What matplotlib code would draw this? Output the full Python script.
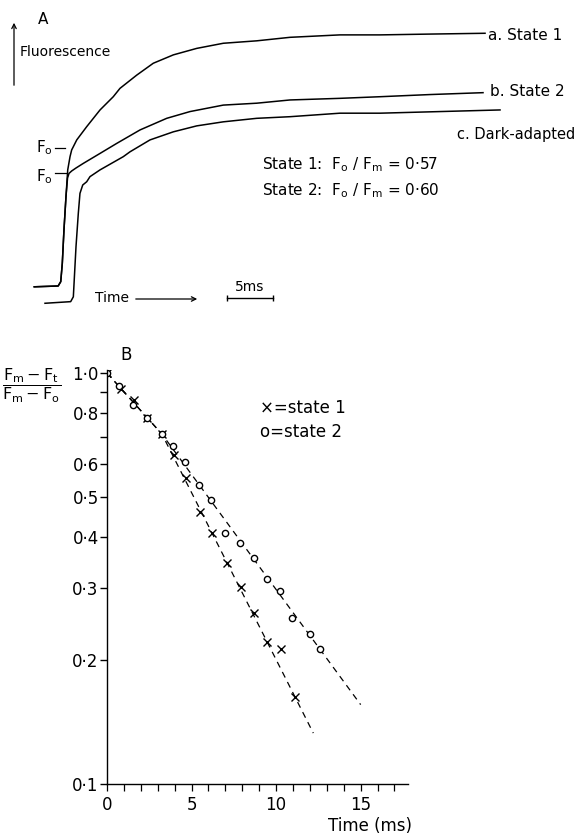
import matplotlib
matplotlib.use("Agg")
import matplotlib.pyplot as plt
from matplotlib.ticker import FixedLocator, FixedFormatter, NullFormatter
import numpy as np

plt.rcParams["font.family"] = ["DejaVu Sans"]
plt.rcParams["mathtext.default"] = "regular"

# ---------------- panel A : fluorescence induction traces (t in ms, F in a.u.) ----
t_state1 = [-2.8, -0.2, 0.08, 0.25, 0.43, 0.65, 0.84, 1.09, 1.27, 1.45, 1.82, 2.9,
            4.35, 5.79, 6.52, 8.34, 10.14, 12.32, 14.86, 17.75, 21.38, 25.0, 30.43,
            34.78, 40.2, 46.2]
f_state1 = [6.0, 6.3, 7.9, 14.7, 27.0, 39.4, 49.3, 54.2, 56.7, 57.9, 60.4, 65.3,
            71.5, 76.4, 79.5, 84.4, 88.8, 91.9, 94.3, 96.2, 97.1, 98.4, 99.3,
            99.3, 99.6, 99.9]

t_state2 = [-2.8, -0.2, 0.08, 0.25, 0.43, 0.65, 0.82, 0.98, 1.27, 1.74, 2.53, 4.35,
            6.16, 8.7, 11.6, 14.13, 17.75, 21.38, 25.0, 30.43, 34.78, 40.2, 45.98]
f_state2 = [6.0, 6.3, 7.9, 14.7, 27.0, 39.4, 46.3, 48.0, 48.9, 50.0, 51.7, 55.4,
            59.1, 64.1, 68.4, 70.9, 73.3, 74.0, 75.2, 75.8, 76.4, 77.2, 77.9]

t_dark = [-1.63, 1.16, 1.45, 1.74, 1.99, 2.17, 2.47, 2.9, 3.26, 4.35, 6.88, 7.61,
          9.78, 12.32, 14.86, 17.75, 21.38, 25.0, 30.43, 34.78, 41.3, 47.83]
f_dark = [-0.1, 0.5, 2.3, 20.9, 33.2, 40.6, 43.7, 44.9, 46.8, 49.3, 54.2, 56.0,
          60.4, 63.4, 65.6, 67.1, 68.4, 69.0, 70.3, 70.3, 70.9, 71.5]

# ---------------- panel B : semilog decay (Fm-Ft)/(Fm-Fo) -----------------------
t1 = [0, 0.82, 1.57, 2.36, 3.25, 3.99, 4.66, 5.49, 6.21, 7.12, 7.92, 8.71, 9.46,
      10.30, 11.13]
y1 = [1.0, 0.913, 0.860, 0.777, 0.710, 0.632, 0.556, 0.458, 0.407, 0.344, 0.301,
      0.261, 0.222, 0.213, 0.163]
t2 = [0, 0.71, 1.53, 2.36, 3.25, 3.91, 4.64, 5.44, 6.17, 6.96, 7.88, 8.67, 9.44,
      10.26, 10.95, 11.98, 12.58]
y2 = [1.0, 0.930, 0.837, 0.777, 0.710, 0.663, 0.607, 0.533, 0.491, 0.409, 0.386,
      0.355, 0.316, 0.295, 0.253, 0.232, 0.213]
fit1_t, fit1_y = [0, 3.25, 12.2], [1.0, 0.71, 0.133]
fit2_t, fit2_y = [0, 3.25, 15.0], [1.0, 0.71, 0.156]

yticks = [1.0, 0.8, 0.6, 0.5, 0.4, 0.3, 0.2, 0.1]
ytick_labels = ["1·0", "0·8", "0·6", "0·5", "0·4", "0·3", "0·2", "0·1"]
yminor = [0.9, 0.7]
xticks = [0, 5, 10, 15]

W, H = 583, 839


def fx(x):
    return x / W


def fy(y):
    return 1 - y / H


fig = plt.figure(figsize=(W / 100, H / 100), dpi=100)

# panel A -- axes spans the top 320 px, 5 ms = 46 px
axA = fig.add_axes([0, fy(320), 1, 320 / H])
axA.set_xlim((0 - 60) / 9.2, (W - 60) / 9.2)
axA.set_ylim((303 - 320) / 2.7, 303 / 2.7)
axA.axis("off")
for t, f in [(t_state1, f_state1), (t_state2, f_state2), (t_dark, f_dark)]:
    axA.plot(t, f, color="black", lw=1.1)

# 5 ms scale bar
axA.plot([18.15, 23.15], [1.85, 1.85], color="black", lw=1.0, marker="|", ms=5)
axA.text(20.65, 3.5, "5ms", ha="center", va="bottom", fontsize=10)

fig.text(fx(38), fy(20), "A", fontsize=11, va="center")
fig.text(fx(20), fy(52), "Fluorescence", fontsize=10, va="center")
fig.add_artist(matplotlib.patches.FancyArrowPatch(
    (fx(14), fy(88)), (fx(14), fy(20)), transform=fig.transFigure,
    arrowstyle="->", mutation_scale=8, lw=0.9, color="black"))
fig.text(fx(95), fy(298), "Time", fontsize=10, va="center")
fig.add_artist(matplotlib.patches.FancyArrowPatch(
    (fx(133), fy(299)), (fx(200), fy(299)), transform=fig.transFigure,
    arrowstyle="->", mutation_scale=8, lw=0.9, color="black"))

fig.text(fx(36), fy(148), "$F_o$", fontsize=11, va="center")
fig.text(fx(36), fy(177), "$F_o$", fontsize=11, va="center")
fig.add_artist(plt.Line2D([fx(55), fx(65)], [fy(148), fy(148)], color="black", lw=0.9))
fig.add_artist(plt.Line2D([fx(55), fx(67)], [fy(173), fy(173)], color="black", lw=0.9))

fig.text(fx(488), fy(35), "a. State 1", fontsize=11, va="center")
fig.text(fx(490), fy(92), "b. State 2", fontsize=11, va="center")
fig.text(fx(575), fy(135), "c. Dark-adapted", fontsize=10.5, ha="right", va="center")
fig.text(fx(262), fy(165), "State 1:  $F_o$ / $F_m$ = 0·57", fontsize=11, va="center")
fig.text(fx(262), fy(191), "State 2:  $F_o$ / $F_m$ = 0·60", fontsize=11, va="center")

# panel B
axB = fig.add_axes([fx(107), fy(784), (408 - 107) / W, (784 - 370) / H])
axB.set_yscale("log")
axB.set_xlim(0, 17.8)
axB.set_ylim(0.1, 1.017)
axB.plot(fit1_t, fit1_y, color="black", lw=0.9, ls=(0, (5, 4)))
axB.plot(fit2_t, fit2_y, color="black", lw=0.9, ls=(0, (5, 4)))
axB.plot(t1, y1, ls="none", marker="x", ms=6, mew=1.0, color="black")
axB.plot(t2, y2, ls="none", marker="o", ms=4.5, mew=1.0, mfc="white", mec="black")

for s in ["top", "right"]:
    axB.spines[s].set_visible(False)
for s in ["left", "bottom"]:
    axB.spines[s].set_linewidth(1.0)

axB.yaxis.set_major_locator(FixedLocator(yticks))
axB.yaxis.set_major_formatter(FixedFormatter(ytick_labels))
axB.yaxis.set_minor_locator(FixedLocator(yminor))
axB.yaxis.set_minor_formatter(NullFormatter())
axB.tick_params(axis="y", which="both", direction="out", length=5, width=1.0,
                labelsize=12, pad=1)
axB.set_xticks(xticks)
axB.set_xticks(range(0, 18), minor=True)
axB.tick_params(axis="x", which="both", direction="out", length=5, width=0.9,
                labelsize=12, pad=4)

fig.text(fx(370), fy(826), "Time (ms)", fontsize=12, ha="center", va="center")
fig.text(fx(120), fy(355), "B", fontsize=12, va="center")
fig.text(fx(32), fy(386), r"$\dfrac{F_m - F_t}{F_m - F_o}$", fontsize=11.5,
         ha="center", va="center")
fig.text(fx(260), fy(408), "×=state 1", fontsize=12, va="center")
fig.text(fx(260), fy(432), "o=state 2", fontsize=12, va="center")

fig.savefig("out.png", dpi=100, facecolor="white")
